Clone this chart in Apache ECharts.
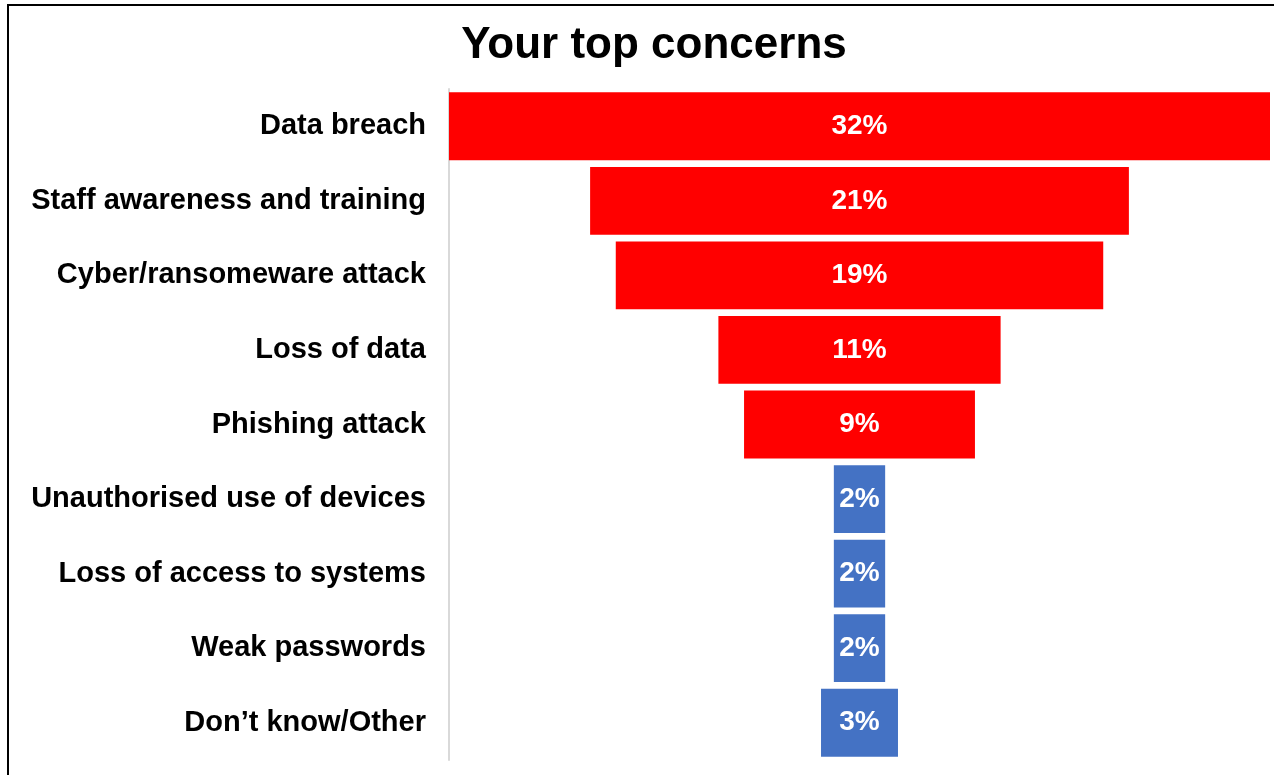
<!DOCTYPE html>
<html>
<head>
<meta charset="utf-8">
<script src="https://cdn.jsdelivr.net/npm/echarts@6/dist/echarts.min.js"></script>
<style>
  html, body { margin: 0; padding: 0; background: #fff; }
  #frame { position: absolute; left: 7px; top: 4px; width: 1280px; height: 800px;
           border-left: 2px solid #000; border-top: 2px solid #000; }
  #chart { position: absolute; left: 0; top: 0; width: 1274px; height: 775px; }
</style>
</head>
<body>
<div id="frame"></div>
<div id="chart"></div>
<script>
// Survey categories, top to bottom
const categories = [
  'Data breach',
  'Staff awareness and training',
  'Cyber/ransomeware attack',
  'Loss of data',
  'Phishing attack',
  'Unauthorised use of devices',
  'Loss of access to systems',
  'Weak passwords',
  'Don\u2019t know/Other'
];
// Share of respondents (%)
const values = [32, 21, 19, 11, 9, 2, 2, 2, 3];
// Top five concerns in red, the rest in blue
const highlighted = [true, true, true, true, true, false, false, false, false];

const RED = '#ff0000';
const BLUE = '#4472c4';
const FONT = 'Liberation Sans, Arial, sans-serif';
const maxVal = Math.max(...values);

// Invisible spacer that centres each bar to form a funnel
const spacer = values.map(v => (maxVal - v) / 2);

const chart = echarts.init(document.getElementById('chart'), null, { renderer: 'canvas' });
chart.setOption({
  animation: false,
  backgroundColor: 'transparent',
  title: {
    text: 'Your top concerns',
    left: 649,
    top: 19,
    textAlign: 'center',
    textStyle: {
      fontFamily: FONT,
      fontWeight: 'bold',
      fontSize: 44,
      color: '#000'
    }
  },
  grid: { left: 449, right: 4, top: 89, bottom: 15, containLabel: false },
  xAxis: {
    type: 'value',
    min: 0,
    max: maxVal,
    show: false
  },
  yAxis: {
    type: 'category',
    inverse: true,
    data: categories,
    axisLine: { show: true, lineStyle: { color: '#d9d9d9', width: 2 } },
    axisTick: { show: false },
    axisLabel: {
      margin: 23,
      padding: [4, 0, 0, 0],
      fontFamily: FONT,
      fontWeight: 'bold',
      fontSize: 29,
      color: '#000'
    }
  },
  series: [
    {
      type: 'bar',
      stack: 'funnel',
      data: spacer,
      itemStyle: { color: 'transparent' },
      barCategoryGap: '9%',
      silent: true
    },
    {
      type: 'bar',
      stack: 'funnel',
      barCategoryGap: '9%',
      data: values.map((v, i) => ({
        value: v,
        itemStyle: { color: highlighted[i] ? RED : BLUE }
      })),
      label: {
        show: true,
        position: 'inside',
        padding: [4, 0, 0, 0],
        formatter: p => p.value + '%',
        fontFamily: FONT,
        fontWeight: 'bold',
        fontSize: 28,
        color: '#fff'
      }
    }
  ]
});
</script>
</body>
</html>
